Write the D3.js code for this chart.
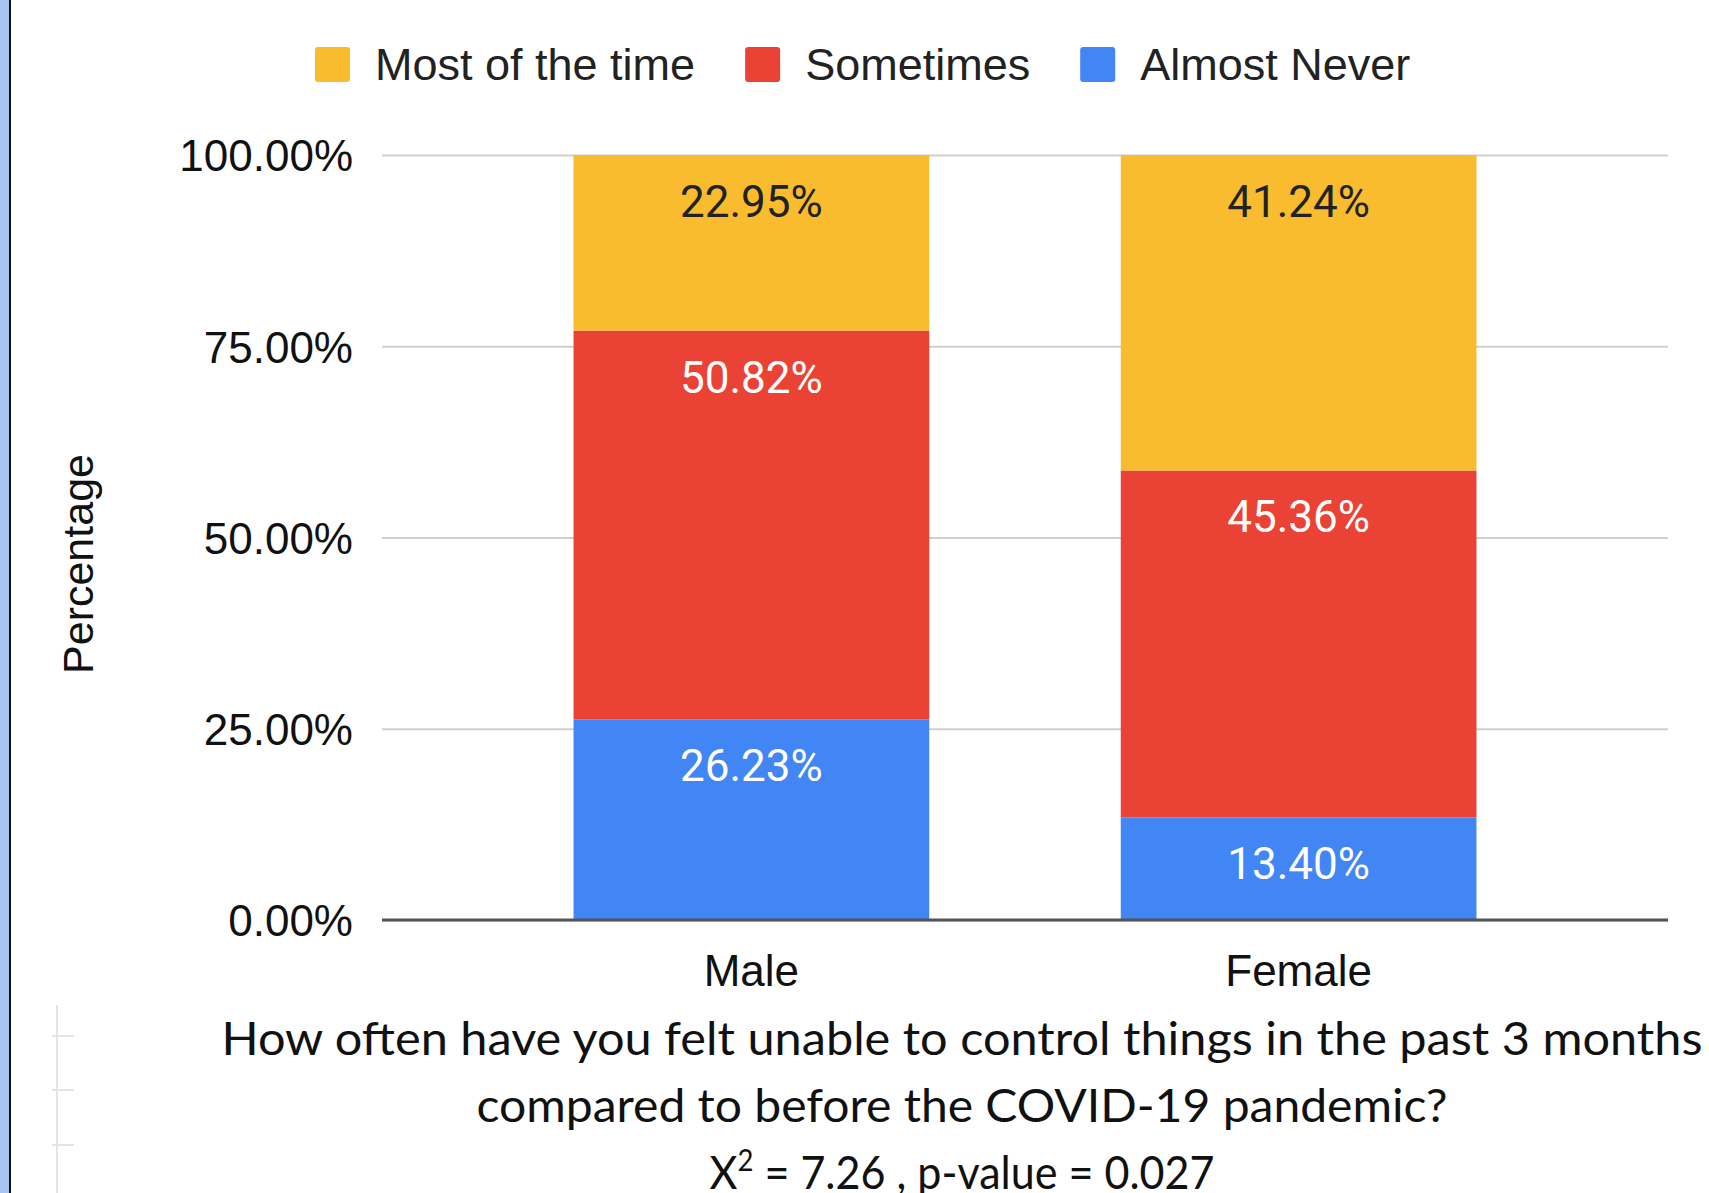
<!DOCTYPE html>
<html>
<head>
<meta charset="utf-8">
<script src="https://cdn.jsdelivr.net/npm/d3@7"></script>
<style>
	body { margin: 0; background: #fff; }
	svg { display: block; }
</style>
</head>
<body>
<svg id="chart" width="1709" height="1193"></svg>
<script>
// chart values
var categories = ["Male", "Female"];
var seriesNames = ["Almost Never", "Sometimes", "Most of the time"];
var almostNever = [26.23, 13.40];
var sometimes = [50.82, 45.36];
var mostOfTheTime = [22.95, 41.24];
var legendOrder = ["Most of the time", "Sometimes", "Almost Never"];
var yTicks = [0, 25, 50, 75, 100];
var yTitle = "Percentage";
var captionLines = [
	"How often have you felt unable to control things in the past 3 months",
	"compared to before the COVID-19 pandemic?"
];
var statLine = {chi: "7.26", p: "0.027"};

var colors = {"Most of the time": "#f9bc2e", "Sometimes": "#ea4335", "Almost Never": "#4285f4"};
var labelColors = {"Most of the time": "#222", "Sometimes": "#fff", "Almost Never": "#fff"};

var svg = d3.select("#chart");
var sans = "'Liberation Sans', Arial, sans-serif";

/*
page decoration: the blue strip and black rule on the left edge,
plus the faint ruler marks of the source document
*/
svg.append("rect").attr("x", 0).attr("y", 0).attr("width", 9).attr("height", 1193).style("fill", "#a9c4f2");
svg.append("line").attr("x1", 10).attr("x2", 10).attr("y1", 0).attr("y2", 1193)
	.style("stroke", "#111").style("stroke-width", 2);
svg.append("line").attr("x1", 57).attr("x2", 57).attr("y1", 1005).attr("y2", 1193)
	.style("stroke", "#e4e4e4").style("stroke-width", 2);
[1036, 1090, 1145].forEach(function(y){
	svg.append("line").attr("x1", 52).attr("x2", 74).attr("y1", y).attr("y2", y)
		.style("stroke", "#e4e4e4").style("stroke-width", 2);
});

// scales
var x = d3.scaleBand().domain(categories).range([382, 1668]).paddingInner(0.35).paddingOuter(0.35);
var y = d3.scaleLinear().domain([0, 100]).range([920, 155]);

// gridlines + tick labels through the axis
var yAxis = svg.append("g")
	.attr("transform", "translate(382,0)")
	.call(d3.axisLeft(y).tickValues(yTicks).tickSize(-1286).tickPadding(29)
		.tickFormat(function(d){ return d.toFixed(2) + "%"; }));
yAxis.select(".domain").remove();
yAxis.selectAll(".tick line").style("stroke", "#cfcfcf").style("stroke-width", 2);
yAxis.selectAll(".tick text")
	.attr("dy", "0.36em")
	.style("font-family", sans)
	.style("font-size", "44px")
	.style("fill", "#111");

// stacked bars
var table = categories.map(function(c, i){
	return {cat: c, "Almost Never": almostNever[i], "Sometimes": sometimes[i], "Most of the time": mostOfTheTime[i]};
});
var stacked = d3.stack().keys(seriesNames)(table);

var layers = svg.selectAll("g.layer").data(stacked).enter().append("g").attr("class", "layer");

layers.selectAll("rect").data(function(s){ return s.map(function(d){ return {key: s.key, d: d}; }); })
	.enter().append("rect")
	.attr("x", function(e){ return x(e.d.data.cat); })
	.attr("width", x.bandwidth())
	.attr("y", function(e){ return y(e.d[1]); })
	.attr("height", function(e){ return y(e.d[0]) - y(e.d[1]); })
	.style("fill", function(e){ return colors[e.key]; });

// data labels sit near the top of every segment
layers.selectAll("text").data(function(s){ return s.map(function(d){ return {key: s.key, d: d}; }); })
	.enter().append("text")
	.attr("x", function(e){ return x(e.d.data.cat) + x.bandwidth()/2; })
	.attr("y", function(e){ return y(e.d[1]) + 62; })
	.attr("text-anchor", "middle")
	.style("font-family", "Roboto, sans-serif")
	.style("font-size", "44px")
	.style("fill", function(e){ return labelColors[e.key]; })
	.text(function(e){ return (e.d[1] - e.d[0]).toFixed(2) + "%"; });

// baseline
svg.append("line").attr("x1", 382).attr("x2", 1668).attr("y1", y(0)).attr("y2", y(0))
	.style("stroke", "#555").style("stroke-width", 3);

// category labels
var xAxis = svg.append("g")
	.attr("transform", "translate(0," + y(0) + ")")
	.call(d3.axisBottom(x).tickSize(0).tickPadding(0));
xAxis.select(".domain").remove();
xAxis.selectAll(".tick text")
	.attr("y", 66).attr("dy", 0)
	.style("font-family", sans)
	.style("font-size", "44px")
	.style("fill", "#111");

// y title
svg.append("text")
	.attr("transform", "translate(93,564) rotate(-90)")
	.attr("text-anchor", "middle")
	.style("font-family", sans)
	.style("font-size", "43px")
	.style("fill", "#111")
	.text(yTitle);

/*
legend: square + label, laid out left to right from measured text widths
*/
var legend = svg.append("g");
var lx = 315;
legendOrder.forEach(function(name){
	legend.append("rect").attr("x", lx).attr("y", 47).attr("width", 35).attr("height", 35)
		.attr("rx", 3).style("fill", colors[name]);
	var t = legend.append("text").attr("x", lx + 60).attr("y", 80)
		.style("font-family", sans).style("font-size", "45px").style("fill", "#222")
		.text(name);
	lx += 60 + t.node().getComputedTextLength() + 50;
});

// caption under the chart
var capFont = "Lato, 'Open Sans', sans-serif";
var capWidths = [1481, 971, 505];
captionLines.forEach(function(line, i){
	svg.append("text")
		.attr("x", 962).attr("y", 1055 + i*67)
		.attr("text-anchor", "middle")
		.attr("textLength", capWidths[i])
		.attr("lengthAdjust", "spacingAndGlyphs")
		.style("font-family", capFont).style("font-size", "47px").style("fill", "#111")
		.text(line);
});
var stat = svg.append("text")
	.attr("x", 962).attr("y", 1189)
	.attr("text-anchor", "middle")
	.attr("textLength", capWidths[2])
	.attr("lengthAdjust", "spacingAndGlyphs")
	.style("font-family", capFont).style("font-size", "47px").style("fill", "#111");
stat.append("tspan").text("X");
stat.append("tspan").attr("dy", -18).style("font-size", "30px").text("2");
stat.append("tspan").attr("dy", 18).text(" = " + statLine.chi + " , p-value = " + statLine.p);
</script>
</body>
</html>
